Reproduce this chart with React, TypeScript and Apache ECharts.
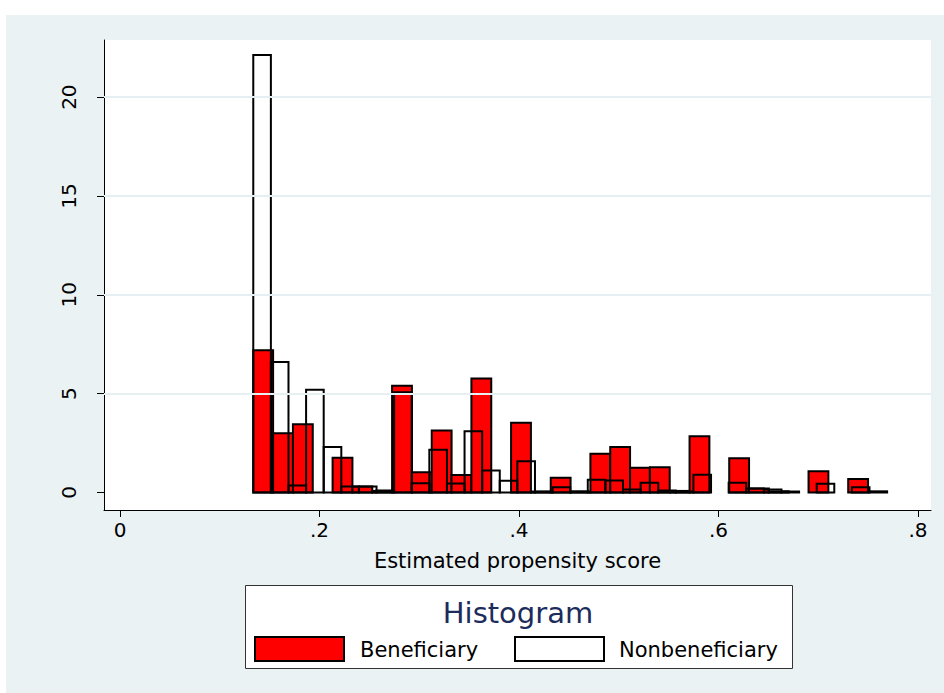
import React, { useEffect, useRef } from "react";
import * as echarts from "echarts";

// Histogram bin structure (propensity-score units)
const binStart = 0.1336;
const beneficiaryBinWidth = 0.01988;
const nonbeneficiaryBinWidth = 0.01765;

// Bar heights (density)
const beneficiaryHeights = [
  7.2, 3.0, 3.45, 0, 1.76, 0.3, 0.08, 5.4, 1.03, 3.14, 0.88, 5.77, 0, 3.53, 0.05, 0.75,
  0.05, 1.96, 2.3, 1.25, 1.28, 0.08, 2.85, 0, 1.73, 0.2, 0.06, 0, 1.08, 0, 0.68,
];
const nonbeneficiaryHeights = [
  22.13, 6.6, 0.35, 5.2, 2.3, 0.3, 0.3, 0.1, 5.07, 0.47, 2.16, 0.45, 3.1, 1.11, 0.59, 1.58,
  0.04, 0.27, 0.05, 0.64, 0.61, 0.15, 0.49, 0.1, 0.05, 0.9, 0, 0.49, 0.2, 0.15, 0.05, 0,
  0.44, 0, 0.27, 0.06,
];

const xTicks = [0, 0.2, 0.4, 0.6, 0.8];
const yTicks = [0, 5, 10, 15, 20];
const yGridValues = [5, 10, 15, 20];

const seriesNames = ["Beneficiary", "Nonbeneficiary"];
const chartTitle = "Histogram";
const xAxisTitle = "Estimated propensity score";

const FONT = "DejaVu Sans";

function toBins(heights: number[], width: number) {
  return heights.map((h, i) => [binStart + i * width, binStart + (i + 1) * width, h]);
}

function makeRenderItem(fill: string) {
  return (params: any, api: any) => {
    const x0 = api.value(0);
    const x1 = api.value(1);
    const h = api.value(2);
    if (!h) return null;
    const p0 = api.coord([x0, 0]);
    const p1 = api.coord([x1, h]);
    return {
      type: "rect",
      shape: { x: p0[0], y: p1[1], width: p1[0] - p0[0], height: p0[1] - p1[1] },
      style: { fill, stroke: "#000", lineWidth: 2 },
    };
  };
}

export default function App() {
  const ref = useRef<HTMLDivElement>(null);

  useEffect(() => {
    if (!ref.current) return;
    const chart = echarts.init(ref.current, null, { renderer: "svg" });
    const option: any = {
      animation: false,
      backgroundColor: "#eaf2f3",
      grid: {
        left: 104,
        top: 40,
        width: 827,
        height: 470,
        show: true,
        backgroundColor: "#ffffff",
        borderWidth: 0,
      },
      xAxis: {
        type: "value",
        min: -0.01604,
        max: 0.813,
        name: xAxisTitle,
        nameLocation: "middle",
        nameGap: 40,
        nameTextStyle: { fontFamily: FONT, fontSize: 21, color: "#000" },
        axisLine: { show: true, onZero: false, lineStyle: { color: "#000", width: 1 } },
        axisTick: { show: true, length: 7, customValues: xTicks, lineStyle: { color: "#000" } },
        axisLabel: {
          customValues: xTicks,
          margin: 10,
          fontFamily: FONT,
          fontSize: 20,
          color: "#000",
          formatter: (v: number) => (v === 0 ? "0" : String(v).replace(/^0/, "")),
        },
        splitLine: { show: false },
      },
      yAxis: {
        type: "value",
        min: -0.885,
        max: 22.89,
        axisLine: { show: true, onZero: false, lineStyle: { color: "#000", width: 1 } },
        axisTick: { show: true, length: 7, customValues: yTicks, lineStyle: { color: "#000" } },
        axisLabel: {
          customValues: yTicks,
          rotate: 90,
          margin: 25,
          fontFamily: FONT,
          fontSize: 20,
          color: "#000",
        },
        splitLine: { show: false },
      },
      series: [
        {
          type: "line",
          name: "grid",
          data: [],
          silent: true,
          z: 1,
          markLine: {
            silent: true,
            symbol: "none",
            label: { show: false },
            lineStyle: { color: "#e6eff1", width: 2, type: "solid" },
            data: yGridValues.map((v) => ({ yAxis: v })),
          },
        },
        {
          type: "custom",
          name: seriesNames[0],
          z: 2,
          renderItem: makeRenderItem("#ff0000"),
          encode: { x: [0, 1], y: 2 },
          data: toBins(beneficiaryHeights, beneficiaryBinWidth),
        },
        {
          type: "custom",
          name: seriesNames[1],
          z: 3,
          renderItem: makeRenderItem("none"),
          encode: { x: [0, 1], y: 2 },
          data: toBins(nonbeneficiaryHeights, nonbeneficiaryBinWidth),
        },
      ],
      graphic: [
        { type: "rect", shape: { x: 0, y: 0, width: 944, height: 15 }, style: { fill: "#ffffff" }, silent: true },
        { type: "rect", shape: { x: 0, y: 0, width: 6, height: 693 }, style: { fill: "#ffffff" }, silent: true },
        {
          type: "rect",
          shape: { x: 245.5, y: 585.5, width: 547, height: 83 },
          style: { fill: "#ffffff", stroke: "#333", lineWidth: 1 },
        },
        {
          type: "text",
          x: 518,
          y: 613,
          style: {
            text: chartTitle,
            fontFamily: FONT,
            fontSize: 29,
            fill: "#1c2c5c",
            textAlign: "center",
            textVerticalAlign: "middle",
          },
        },
        {
          type: "rect",
          shape: { x: 255, y: 637, width: 89, height: 24 },
          style: { fill: "#ff0000", stroke: "#000", lineWidth: 2 },
        },
        {
          type: "text",
          x: 360,
          y: 650,
          style: {
            text: seriesNames[0],
            fontFamily: FONT,
            fontSize: 21,
            fill: "#000",
            textAlign: "left",
            textVerticalAlign: "middle",
          },
        },
        {
          type: "rect",
          shape: { x: 515, y: 637, width: 89, height: 24 },
          style: { fill: "#ffffff", stroke: "#000", lineWidth: 2 },
        },
        {
          type: "text",
          x: 619,
          y: 650,
          style: {
            text: seriesNames[1],
            fontFamily: FONT,
            fontSize: 21,
            fill: "#000",
            textAlign: "left",
            textVerticalAlign: "middle",
          },
        },
      ],
    };
    chart.setOption(option);
    return () => chart.dispose();
  }, []);

  return (
    <div
      ref={ref}
      style={{ position: "absolute", left: 0, top: 0, width: 944, height: 693 }}
    />
  );
}
